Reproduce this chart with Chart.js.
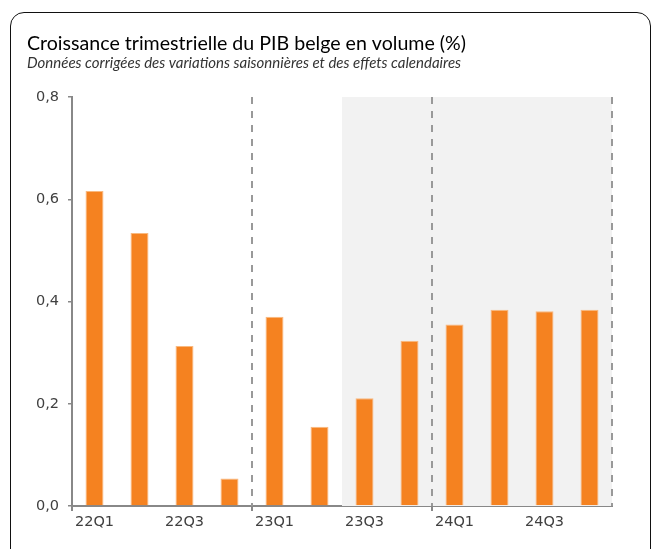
<!DOCTYPE html>
<html>
<head>
<meta charset="utf-8">
<script src="https://cdn.jsdelivr.net/npm/chart.js@4/dist/chart.umd.min.js"></script>
<style>
  html, body { margin: 0; padding: 0; background: #fff; }
  #wrap { position: relative; width: 651px; height: 549px; overflow: hidden; }
  #cadre { position: absolute; left: 10px; top: 12px; width: 641px; height: 560px;
           border: 1.5px solid #111; border-radius: 14px; box-sizing: border-box; }
  canvas { position: absolute; left: 0; top: 0; }
</style>
</head>
<body>
<div id="wrap">
  <div id="cadre"></div>
  <canvas id="grafico" width="651" height="549"></canvas>
</div>
<script>
// Données
const trimestres = ["22Q1", "22Q2", "22Q3", "22Q4", "23Q1", "23Q2", "23Q3", "23Q4", "24Q1", "24Q2", "24Q3", "24Q4"];
const croissance = [0.616, 0.534, 0.313, 0.054, 0.370, 0.155, 0.211, 0.323, 0.355, 0.384, 0.381, 0.384];
const titre = "Croissance trimestrielle du PIB belge en volume (%)";
const sousTitre = "Données corrigées des variations saisonnières et des effets calendaires";

// Titre + zone grisée + séparateurs pointillés
const decor = {
  id: "decor",
  beforeDatasetsDraw(chart) {
    const { ctx, chartArea: a, scales: { x } } = chart;
    const bord = i => (x.getPixelForValue(i) + x.getPixelForValue(i + 1)) / 2;
    ctx.save();
    ctx.fillStyle = "#f2f2f2";
    ctx.fillRect(bord(5), a.top, a.right - bord(5), a.bottom - a.top);
    ctx.strokeStyle = "#999";
    ctx.lineWidth = 2;
    ctx.setLineDash([7, 7]);
    [bord(3), bord(7), a.right].forEach(px => {
      ctx.beginPath();
      ctx.moveTo(px, a.top);
      ctx.lineTo(px, a.bottom);
      ctx.stroke();
    });
    ctx.restore();
  },
  afterDraw(chart) {
    const ctx = chart.ctx;
    ctx.save();
    ctx.fillStyle = "#000";
    ctx.textBaseline = "alphabetic";
    ctx.font = "19.6px Lato";
    ctx.fillText(titre, 27, 50);
    ctx.fillStyle = "#333";
    ctx.font = "italic 15px Lato";
    ctx.fillText(sousTitre, 27, 68);
    ctx.restore();
  }
};

new Chart(document.getElementById("grafico"), {
  type: "bar",
  data: {
    labels: trimestres,
    datasets: [{
      data: croissance,
      backgroundColor: "#f58220",
      borderColor: "#f9b97f",
      borderWidth: 1,
      barPercentage: 0.4,
      categoryPercentage: 1
    }]
  },
  options: {
    responsive: false,
    animation: false,
    layout: { padding: { top: 97, right: 39, left: 0, bottom: 0 } },
    plugins: { legend: false, tooltip: { enabled: false } },
    scales: {
      x: {
        afterFit(s) { s.height = 43; },
        border: { color: "#888", width: 2 },
        grid: {
          drawOnChartArea: false,
          tickLength: 5,
          color: c => (c.index % 4 === 0 ? "#888" : "rgba(0,0,0,0)"),
          lineWidth: 2
        },
        ticks: {
          autoSkip: false,
          maxRotation: 0,
          padding: 3,
          color: "#404040",
          font: { family: "DejaVu Sans", size: 14.5 },
          callback(v, i) { return i % 2 === 0 ? trimestres[i] : ""; }
        }
      },
      y: {
        min: 0,
        max: 0.8,
        afterFit(s) { s.width = 72; },
        border: { color: "#888", width: 2 },
        grid: { drawOnChartArea: false, tickLength: 4, color: "#888", lineWidth: 1.5 },
        ticks: {
          stepSize: 0.2,
          padding: 9,
          color: "#404040",
          font: { family: "DejaVu Sans", size: 14.5 },
          callback: v => v.toFixed(1).replace(".", ",")
        }
      }
    }
  },
  plugins: [decor]
});
</script>
</body>
</html>
